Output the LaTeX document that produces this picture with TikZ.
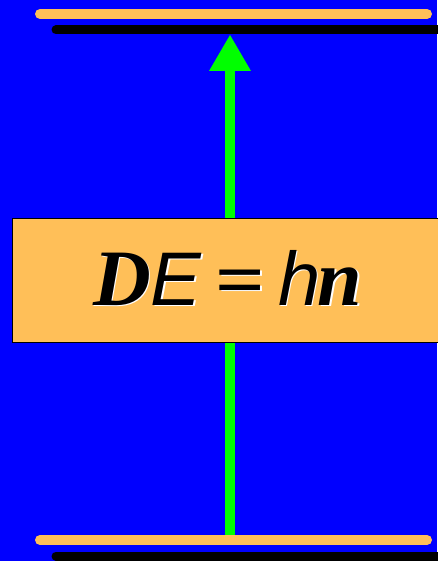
\documentclass[tikz,border=0pt]{standalone}
\usepackage{graphicx}
\usepackage{fontspec}
\setmainfont{Liberation Serif}
\newfontfamily\eqsans{Liberation Sans}
\definecolor{bgblue}{RGB}{0,0,255}
\definecolor{lvorange}{RGB}{255,191,88}
\definecolor{arrgreen}{RGB}{0,255,0}
\tikzset{
  level/.style={line width=10pt, line cap=round, lvorange},
  levelshadow/.style={line width=9pt, line cap=round, black},
  eqbox/.style={draw=black, line width=1pt, fill=lvorange},
  eqtext/.style={inner sep=0pt, anchor=base west, font=\fontsize{76}{80}\selectfont},
}
\newcommand{\eqstr}{{\fontsize{80}{84}\selectfont\bfseries\itshape D}{\eqsans\itshape E}\hspace{14pt}\scalebox{1.15}[1]{\bfseries =}\hspace{13pt}{\eqsans\itshape h}\hspace{-3pt}{\fontsize{80}{84}\selectfont\bfseries\itshape n}}
\begin{document}
\begin{tikzpicture}[x=1pt,y=-1pt]
\fill[bgblue] (0,0) rectangle (437,561);
\useasboundingbox (0,0) rectangle (437,561);
% coordinates
\coordinate (ts1) at (56,30); \coordinate (ts2) at (450,30);
\coordinate (t1) at (40,14); \coordinate (t2) at (427,14);
\coordinate (bs1) at (56,556); \coordinate (bs2) at (450,556);
\coordinate (b1) at (40,540); \coordinate (b2) at (427,540);
\coordinate (abase) at (230,535);
\coordinate (atip) at (230,35);
% levels
\draw[levelshadow] (ts1) -- (ts2);
\draw[level] (t1) -- (t2);
\draw[levelshadow] (bs1) -- (bs2);
\draw[level] (b1) -- (b2);
% arrow shaft and head
\draw[arrgreen, line width=10pt] (abase) -- (230,70);
\fill[arrgreen] (atip) -- (251,71) -- (209,71) -- cycle;
% box
\node[eqbox, minimum width=440pt, minimum height=124pt, anchor=north west, inner sep=0pt] (box) at (12,218) {};
\node[eqtext, white] (eqs) at (94.5,306.5) {\eqstr};
\node[eqtext, black] (eq) at (93,305) {\eqstr};
\end{tikzpicture}
\end{document}
